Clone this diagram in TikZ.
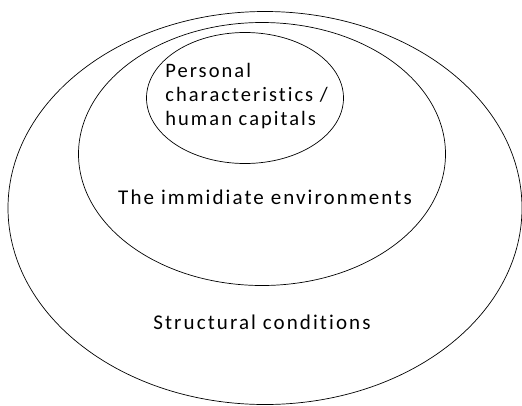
\documentclass[tikz,border=0pt]{standalone}
\usepackage{fontspec}
\setmainfont{Carlito}[LetterSpace=10,Ligatures=CommonOff]
\usetikzlibrary{shapes.geometric}

\begin{document}
\begin{tikzpicture}[x=1pt,y=-1pt,line width=0.7pt]
\useasboundingbox (0,0) rectangle (522,405);
\node[draw,ellipse,inner sep=0pt,minimum width=514pt,minimum height=393pt](outer) at (265,208){};
\node[draw,ellipse,inner sep=0pt,minimum width=367pt,minimum height=263pt](mid) at (262,154){};
\node[draw,ellipse,inner sep=0pt,minimum width=197pt,minimum height=131pt](inner) at (245,98){};
\node[align=left,font=\fontsize{20.5}{24}\selectfont,inner sep=0pt,anchor=west](pc) at (165,96){Personal\\characteristics /\\human capitals};
\node[font=\fontsize{21}{24}\selectfont](env) at (265,197){The immidiate environments};
\node[font=\fontsize{21}{24}\selectfont](sc) at (262,322){Structural conditions};
\end{tikzpicture}
\end{document}
